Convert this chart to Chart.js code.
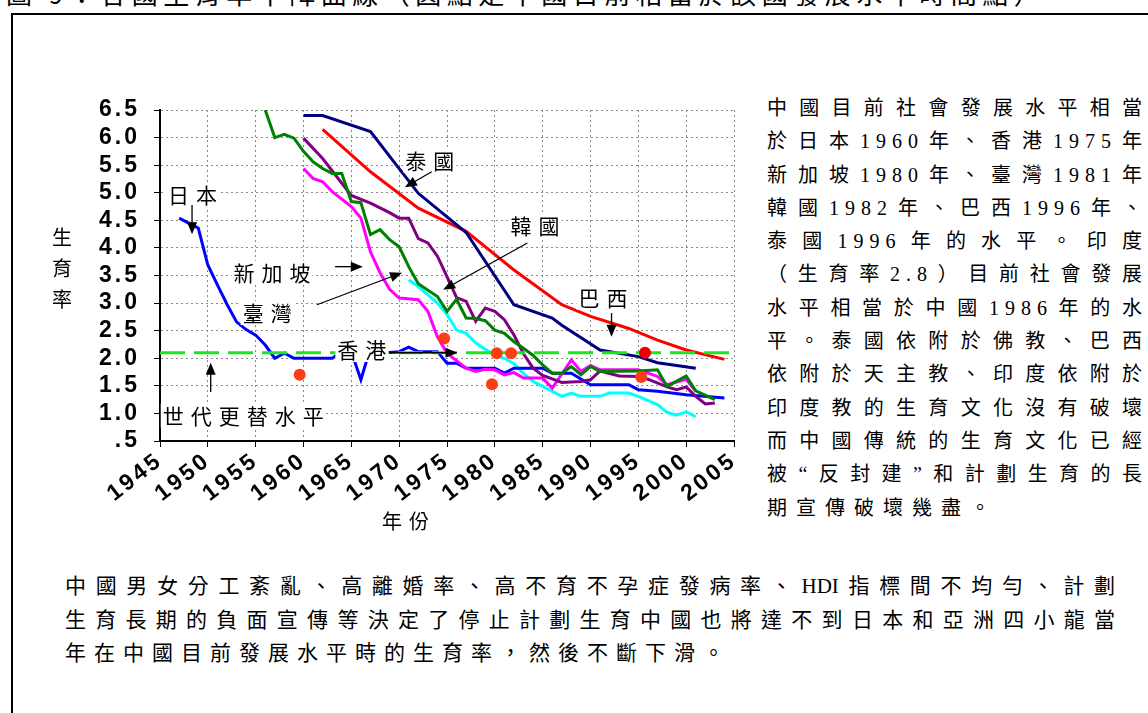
<!DOCTYPE html>
<html>
<head>
<meta charset="utf-8">
<script src="https://cdn.jsdelivr.net/npm/chart.js@4"></script>
<style>
  html, body { margin: 0; padding: 0; background: #fff; overflow: hidden; width: 1148px; height: 713px; }
  #frame { position: absolute; left: 11px; top: 13px; width: 1300px; height: 900px; border: 2px solid #000; }
  #title { position: absolute; left: 6px; top: -26px; font: 26px "Noto Sans CJK TC"; letter-spacing: 5.5px; white-space: nowrap; }
  #wrap { position: absolute; left: 0; top: 0; width: 760px; height: 560px; }
  #ytitle { position: absolute; left: 52px; top: 221px; width: 22px; font: 20px "Noto Sans CJK TC"; line-height: 31px; }
  #xtitle { position: absolute; left: 382px; top: 508px; font: 20px "Noto Sans CJK TC"; line-height: 26px; letter-spacing: 7px; }
  #side { position: absolute; left: 767px; top: 92px; width: 375px; font: 20px "Liberation Serif", "Noto Sans CJK TC"; line-height: 33.3px; letter-spacing: 6px; }
  #side div { text-align: justify; text-align-last: justify; margin-right: -6px; }
  #side div.last { text-align: left; text-align-last: left; letter-spacing: 9px; }
  #bottom { position: absolute; left: 65px; top: 570px; width: 1050px; font: 21px "Liberation Serif", "Noto Sans CJK TC"; line-height: 33.5px; }
  #bottom div { text-align: justify; text-align-last: justify; }
  #bottom div.last { text-align: left; text-align-last: left; letter-spacing: 8px; }
</style>
</head>
<body>
<div id="title">圖 9：各國生育率下降曲線（圓點是中國目前相當於該國發展水平時間點）</div>
<div id="frame"></div>
<div id="wrap"><canvas id="chart" width="760" height="560"></canvas></div>
<div id="ytitle">生<br>育<br>率</div>
<div id="xtitle">年份</div>
<div id="side">
  <div>中國目前社會發展水平相當</div>
  <div>於日本1960年、香港1975年</div>
  <div>新加坡1980年、臺灣1981年</div>
  <div>韓國1982年、巴西1996年、</div>
  <div>泰國1996年的水平。印度</div>
  <div>（生育率2.8）目前社會發展</div>
  <div>水平相當於中國1986年的水</div>
  <div>平。泰國依附於佛教、巴西</div>
  <div>依附於天主教、印度依附於</div>
  <div>印度教的生育文化沒有破壞</div>
  <div>而中國傳統的生育文化已經</div>
  <div>被“反封建”和計劃生育的長</div>
  <div class="last">期宣傳破壞幾盡。</div>
</div>
<div id="bottom">
  <div>中國男女分工紊亂、高離婚率、高不育不孕症發病率、HDI指標間不均勻、計劃</div>
  <div>生育長期的負面宣傳等決定了停止計劃生育中國也將達不到日本和亞洲四小龍當</div>
  <div class="last">年在中國目前發展水平時的生育率，然後不斷下滑。</div>
</div>
<script>
// fertility rate series
const japanYears = [1947,1948,1949,1950,1951,1952,1953,1954,1955,1956,1957,1958,1959,1960,1963,1964,1965,1966,1967,1968,1970,1971,1972,1974,1975,1976,1977,1980,1981,1982,1985,1986,1988,1990,1994,1995,1997,2000,2004];
const japanRate = [4.54,4.45,4.36,3.69,3.33,2.98,2.66,2.52,2.42,2.24,2.00,2.09,2.00,2.00,2.00,2.12,2.12,1.61,2.19,2.09,2.12,2.20,2.12,2.12,1.91,1.91,1.82,1.82,1.73,1.82,1.82,1.73,1.73,1.52,1.52,1.43,1.40,1.34,1.28];

const thaiYears = [1960,1962,1967,1972,1977,1982,1986,1987,1991,1995,1997,2001];
const thaiRate = [6.40,6.40,6.11,4.99,4.28,2.97,2.73,2.60,2.15,2.03,1.92,1.82];

const brazilYears = [1962,1967,1972,1977,1982,1987,1990,1994,1997,2000,2004];
const brazilRate = [6.15,5.38,4.72,4.30,3.60,2.97,2.76,2.54,2.33,2.15,1.98];

const taiwanYears = [1956,1957,1958,1959,1960,1961,1962,1963,1964,1965,1966,1967,1968,1969,1970,1971,1972,1974,1975,1976,1977,1978,1979,1980,1981,1982,1983,1984,1985,1986,1987,1988,1989,1990,1991,1995,1997,1998,2000,2001,2003];
const taiwanRate = [6.50,6.00,6.06,5.99,5.75,5.56,5.44,5.35,5.35,4.84,4.82,4.24,4.33,4.15,4.02,3.66,3.35,3.12,2.85,3.07,2.73,2.72,2.68,2.51,2.45,2.30,2.18,2.05,1.88,1.73,1.73,1.85,1.70,1.85,1.76,1.77,1.79,1.49,1.68,1.41,1.25];

const singYears = [1960,1961,1962,1963,1965,1966,1967,1968,1969,1970,1972,1973,1974,1975,1977,1978,1979,1980,1981,1982,1983,1985,1986,1988,1989,1990,1991,1995,1997,1998,2000,2001];
const singRate = [5.44,5.26,5.20,5.02,4.75,4.54,3.93,3.55,3.25,3.09,3.06,2.85,2.39,2.09,1.82,1.76,1.80,1.79,1.70,1.74,1.64,1.64,1.46,1.97,1.76,1.87,1.79,1.79,1.67,1.52,1.62,1.40];

const koreaYears = [1960,1962,1965,1967,1969,1970,1971,1972,1973,1974,1975,1976,1977,1978,1979,1980,1981,1982,1983,1984,1985,1987,1989,1990,1991,1993,1995,1996,1998,1999,2000,2001,2002,2003];
const koreaRate = [5.99,5.62,4.95,4.81,4.64,4.54,4.54,4.17,4.09,3.85,3.48,3.10,3.03,2.67,2.91,2.85,2.70,2.42,2.08,1.82,1.69,1.56,1.58,1.61,1.77,1.68,1.67,1.62,1.48,1.43,1.48,1.31,1.17,1.19];

const hkYears = [1971,1972,1973,1974,1975,1976,1977,1978,1979,1980,1981,1982,1983,1984,1985,1986,1987,1988,1989,1991,1992,1994,1995,1997,1998,1999,2000,2001];
const hkRate = [3.42,3.30,3.15,3.00,2.79,2.51,2.45,2.28,2.16,2.06,2.00,1.90,1.72,1.58,1.49,1.40,1.31,1.37,1.31,1.31,1.37,1.37,1.31,1.16,1.02,0.97,1.03,0.94];

// China today, placed at the year each country had the same development level
const chinaYears = [1959.6,1974.7,1979.7,1980.2,1981.7,1995.3,1995.7];
const chinaRate = [1.70,2.36,1.53,2.09,2.09,1.66,2.10];

const replacementYears = [1945, 2005];
const replacementRate = 2.1;

const yearTicks = { min: 1945, max: 2005, step: 5 };
const rateTicks = { min: 0.5, max: 6.5, step: 0.5 };

// callout labels (text anchored in data units) and their arrows
const notes = [
  { text: '日本', year: 1948.4, rate: 4.95 },
  { text: '新加坡', year: 1956.7, rate: 3.55 },
  { text: '臺灣', year: 1956.2, rate: 2.82 },
  { text: '香港', year: 1966.1, rate: 2.15 },
  { text: '泰國', year: 1973.2, rate: 5.58 },
  { text: '韓國', year: 1984.2, rate: 4.40 },
  { text: '巴西', year: 1991.3, rate: 3.10 },
  { text: '世代更替水平', year: 1953.7, rate: 0.96 }
];
const arrows = [
  { from: [1948.35, 4.78], to: [1948.35, 4.25] },
  { from: [1963.3, 3.66], to: [1966.2, 3.66] },
  { from: [1961.4, 2.97], to: [1970.3, 3.55] },
  { from: [1969.0, 2.10], to: [1976.1, 2.10] },
  { from: [1973.4, 5.38], to: [1970.6, 5.10] },
  { from: [1983.4, 4.09], to: [1974.6, 3.24] },
  { from: [1992.2, 2.82], to: [1992.2, 2.39] },
  { from: [1950.3, 1.39], to: [1950.3, 1.92] }
];

const zip = (xs, ys) => xs.map((x, i) => ({ x, y: ys[i] }));

function line(years, rates, color) {
  return { data: zip(years, rates), borderColor: color, borderWidth: 3, pointRadius: 0, tension: 0, fill: false };
}

const spacing = {
  id: 'spacing',
  beforeUpdate(chart) { chart.ctx.letterSpacing = '3px'; },
  beforeDraw(chart) { chart.ctx.letterSpacing = '3px'; }
};

const callouts = {
  id: 'callouts',
  afterDatasetsDraw(chart) {
    const { ctx, scales: { x, y } } = chart;
    ctx.save();
    ctx.letterSpacing = '0px';
    ctx.font = '21px "Noto Sans CJK TC"';
    ctx.textBaseline = 'middle';
    ctx.textAlign = 'left';
    const gap = 7;
    notes.forEach(n => {
      const chars = [...n.text];
      const widths = chars.map(c => ctx.measureText(c).width);
      const w = widths.reduce((s, v) => s + v, 0) + gap * (chars.length - 1);
      let px = x.getPixelForValue(n.year) - w / 2;
      const py = y.getPixelForValue(n.rate);
      ctx.fillStyle = '#fff';
      ctx.fillRect(px - 2, py - 12, w + 4, 24);
      ctx.fillStyle = '#000';
      chars.forEach((c, i) => { ctx.fillText(c, px, py); px += widths[i] + gap; });
    });
    ctx.strokeStyle = '#000';
    ctx.fillStyle = '#000';
    ctx.lineWidth = 1.3;
    arrows.forEach(a => {
      const x1 = x.getPixelForValue(a.from[0]), y1 = y.getPixelForValue(a.from[1]);
      const x2 = x.getPixelForValue(a.to[0]), y2 = y.getPixelForValue(a.to[1]);
      const ang = Math.atan2(y2 - y1, x2 - x1);
      const c = Math.cos(ang), s = Math.sin(ang);
      ctx.beginPath();
      ctx.moveTo(x1, y1);
      ctx.lineTo(x2 - 10 * c, y2 - 10 * s);
      ctx.stroke();
      ctx.beginPath();
      ctx.moveTo(x2, y2);
      ctx.lineTo(x2 - 12 * c + 5 * s, y2 - 12 * s - 5 * c);
      ctx.lineTo(x2 - 12 * c - 5 * s, y2 - 12 * s + 5 * c);
      ctx.closePath();
      ctx.fill();
    });
    ctx.restore();
  }
};

const tickFont = { family: '"Liberation Sans", Arial', size: 23, weight: 'bold' };
const gridStyle = { color: '#8a8a8a', lineWidth: 1, tickColor: '#000', tickLength: 6 };
const borderStyle = { color: '#000', width: 2, dash: [2, 3] };

new Chart(document.getElementById('chart'), {
  type: 'line',
  data: {
    datasets: [
      {
        data: zip(chinaYears, chinaRate), showLine: false, pointRadius: 6, pointBorderWidth: 0,
        pointBackgroundColor: chinaYears.map((_, i) => i === chinaYears.length - 1 ? '#ee0000' : '#ff3c14')
      },
      {
        data: replacementYears.map(x => ({ x, y: replacementRate })), borderColor: '#1ee61e',
        borderWidth: 3, borderDash: [25, 9], pointRadius: 0
      },
      line(taiwanYears, taiwanRate, '#008000'),
      line(koreaYears, koreaRate, '#800080'),
      line(singYears, singRate, '#ff00ff'),
      line(japanYears, japanRate, '#0000ff'),
      line(hkYears, hkRate, '#00ffff'),
      line(thaiYears, thaiRate, '#000080'),
      line(brazilYears, brazilRate, '#ff0000')
    ]
  },
  options: {
    responsive: false,
    animation: false,
    layout: { padding: { left: 60, top: 110, right: 26, bottom: 0 } },
    plugins: { legend: { display: false }, tooltip: { enabled: false } },
    scales: {
      x: {
        type: 'linear', min: yearTicks.min, max: yearTicks.max,
        afterFit: s => { s.height = 119; },
        ticks: {
          stepSize: yearTicks.step, autoSkip: false, minRotation: 38, maxRotation: 38, padding: 0,
          color: '#000', font: tickFont, callback: v => String(v)
        },
        grid: gridStyle,
        border: borderStyle
      },
      y: {
        min: rateTicks.min, max: rateTicks.max,
        afterFit: s => { s.width = 100; },
        ticks: {
          stepSize: rateTicks.step, autoSkip: false, padding: 14, color: '#000', font: tickFont,
          callback: v => v.toFixed(1).replace(/^0/, '')
        },
        grid: gridStyle,
        border: borderStyle
      }
    }
  },
  plugins: [spacing, callouts]
});
</script>
</body>
</html>
